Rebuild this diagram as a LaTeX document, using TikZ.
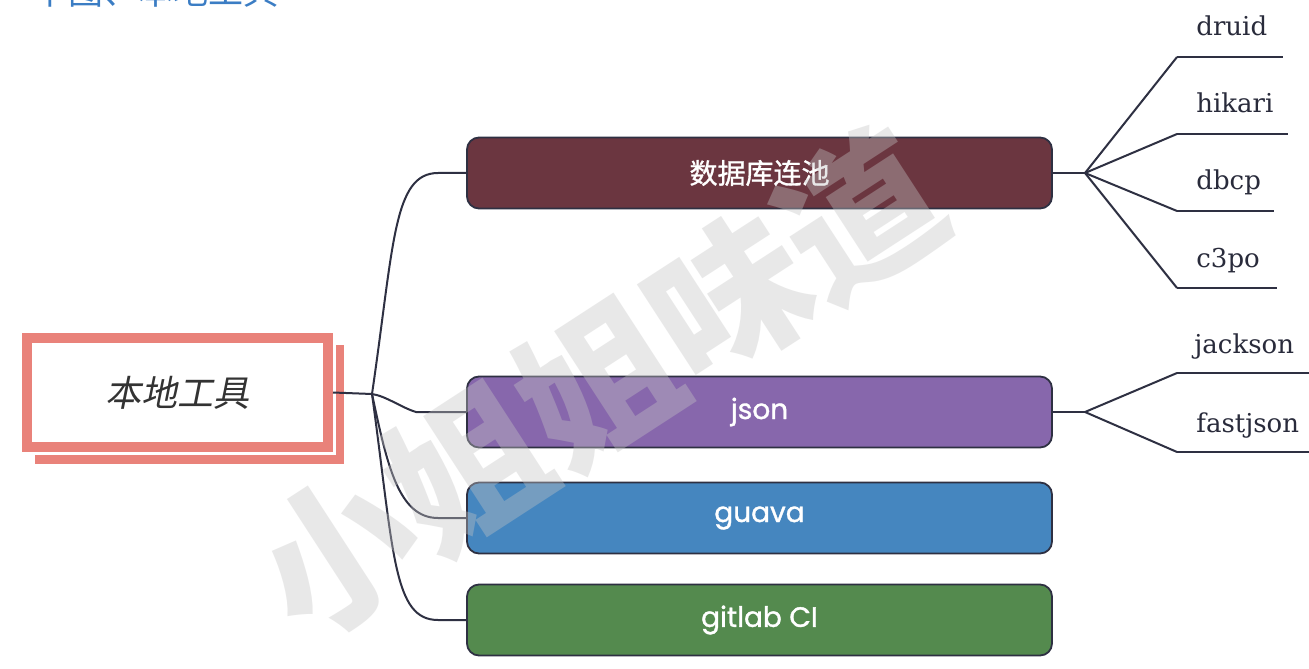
\documentclass[tikz,border=0pt]{standalone}
\usepackage{fontspec}
\setmainfont{DejaVu Serif}
\newfontfamily\cjk{Noto Sans CJK SC}
\newfontfamily\cjkbox[FakeBold=1.2]{Noto Sans CJK SC}
\newfontfamily\cjkit[FakeSlant=0.2]{Noto Sans CJK SC}
\newfontfamily\boxfont[FakeBold=1.2]{Poppins}
\definecolor{rootpink}{HTML}{E9827A}
\definecolor{poolred}{HTML}{6B3640}
\definecolor{jsonpurple}{HTML}{8767AC}
\definecolor{guavablue}{HTML}{4586BF}
\definecolor{gitgreen}{HTML}{548A4E}
\definecolor{linec}{HTML}{2E3042}
\definecolor{titleblue}{HTML}{3B7DC4}
\definecolor{markgray}{HTML}{C4C4C4}
\begin{document}
\begin{tikzpicture}[x=0.5pt,y=-0.5pt,
  branch/.style={draw=linec, line width=0.9pt, rounded corners=6pt,
    minimum width=292.5pt, minimum height=35.5pt, text=white,
    font=\boxfont\fontsize{14}{16}\selectfont},
  leaf/.style={anchor=base west, inner sep=0pt, text=linec!90!black,
    font=\fontsize{13}{15}\selectfont},
  link/.style={draw=linec, line width=1pt},
  under/.style={draw=linec, line width=1.4pt}]
\useasboundingbox (0,0) rectangle (1309,668);
\fill[white] (0,0) rectangle (1309,668);

% title, cut off at the top
\begin{scope}
\clip (0,0) rectangle (1309,668);
\node[anchor=west, text=titleblue, font=\cjk\fontsize{17.5}{20}\selectfont] (title) at (26,-9) {下图、本地工具};
\end{scope}

% root
\draw[rootpink, line width=5pt, fill=white] (40,350) rectangle (339,459);
\node[draw=rootpink, line width=5pt, fill=white, preaction={draw=white, line width=8pt},
  minimum width=150.5pt, minimum height=54.5pt, text=black!80,
  font=\cjkit\fontsize{18}{20}\selectfont] (root) at (177.5,392.5) {本地工具};
\coordinate (rf) at (372,394);
\draw[link] (root.east) -- (rf);

% branches
\node[branch, fill=poolred, font=\cjkbox\fontsize{14}{16}\selectfont] (pool) at (759.5,173) {数据库连池};
\node[branch, fill=jsonpurple] (json) at (759.5,412) {json};
\node[branch, fill=guavablue] (guava) at (759.5,518) {guava};
\node[branch, fill=gitgreen] (gitlab) at (759.5,620) {gitlab CI};

\draw[link] (rf) .. controls +(22,-150) and +(-45,0) .. ([xshift=-14pt]pool.west) -- (pool.west);
\draw[link] (rf) .. controls +(14,2) and +(-14,-4) .. ([xshift=-25pt]json.west) -- (json.west);
\draw[link] (rf) .. controls +(15,70) and +(-40,0) .. ([xshift=-14pt]guava.west) -- (guava.west);
\draw[link] (rf) .. controls +(22,160) and +(-45,0) .. ([xshift=-14pt]gitlab.west) -- (gitlab.west);

% pool leaves
\coordinate (pf) at (1085,173);
\draw[link] (pool.east) -- (pf);
\coordinate (d1) at (1177,57);   \coordinate (d1e) at (1283,57);
\coordinate (d2) at (1177,134);  \coordinate (d2e) at (1288,134);
\coordinate (d3) at (1177,211);  \coordinate (d3e) at (1274,211);
\coordinate (d4) at (1177,288);  \coordinate (d4e) at (1277,288);
\draw[link] (pf) -- (d1); \draw[under] (d1) -- (d1e);
\draw[link] (pf) -- (d2); \draw[under] (d2) -- (d2e);
\draw[link] (pf) -- (d3); \draw[under] (d3) -- (d3e);
\draw[link] (pf) -- (d4); \draw[under] (d4) -- (d4e);
\node[leaf] (druid) at (1196,36) {druid};
\node[leaf] (hikari) at (1196,113) {hikari};
\node[leaf] (dbcp) at (1196,190) {dbcp};
\node[leaf] (c3po) at (1196,267) {c3po};

% json leaves
\coordinate (jf) at (1085,412);
\draw[link] (json.east) -- (jf);
\coordinate (j1) at (1177,373);  \coordinate (j1e) at (1309,373);
\coordinate (j2) at (1177,452);  \coordinate (j2e) at (1309,452);
\draw[link] (jf) -- (j1); \draw[under] (j1) -- (j1e);
\draw[link] (jf) -- (j2); \draw[under] (j2) -- (j2e);
\node[leaf] (jackson) at (1194,353) {jackson};
\node[leaf] (fastjson) at (1196,432) {fastjson};

% watermark
\node[rotate=33, text=markgray, opacity=0.38, font=\cjk\bfseries\fontsize{78}{80}\selectfont] (mark) at (598,383) {小姐姐味道};
\end{tikzpicture}
\end{document}
